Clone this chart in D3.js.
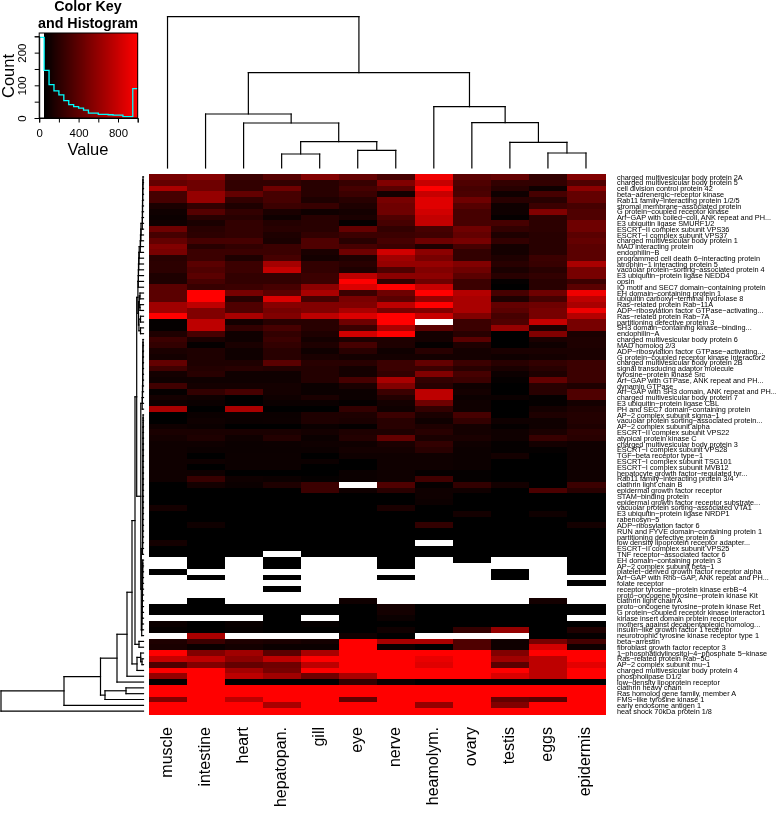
<!DOCTYPE html>
<html><head><meta charset="utf-8">
<script src="https://cdn.jsdelivr.net/npm/d3@7"></script>
<style>html,body{margin:0;padding:0;background:#fff}svg{display:block;will-change:transform}text{font-family:"Liberation Sans",Arial,sans-serif;fill:#000}</style>
</head><body><div id="chart"></div>
<script>
const columns=["muscle","intestine","heart","hepatopan.","gill","eye","nerve","heamolym.","ovary","testis","eggs","epidermis"];
const rowLabels=["charged multivesicular body protein 2A","charged multivesicular body protein 5","cell division control protein 42","beta−adrenergic−receptor kinase","Rab11 family−interacting protein 1/2/5","stromal membrane−associated protein","G protein−coupled receptor kinase","Arf−GAP with coiled−coil, ANK repeat and PH...","E3 ubiquitin ligase SMURF1/2","ESCRT−II complex subunit VPS36","ESCRT−I complex subunit VPS37","charged multivesicular body protein 1","MAD interacting protein","endophilin−B","programmed cell death 6−interacting protein","atrophin−1 interacting protein 5","vacuolar protein−sorting−associated protein 4","E3 ubiquitin−protein ligase NEDD4","opsin","IQ motif and SEC7 domain−containing protein","EH domain−containing protein 1","ubiquitin carboxyl−terminal hydrolase 8","Ras−related protein Rab−11A","ADP−ribosylation factor GTPase−activating...","Ras−related protein Rab−7A","partitioning defective protein 3","SH3 domain−containing kinase−binding...","endophilin−A","charged multivesicular body protein 6","MAD homolog 2/3","ADP−ribosylation factor GTPase−activating...","G protein−coupled receptor kinase interactor2","charged multivesicular body protein 2B","signal transducing adaptor molecule","tyrosine−protein kinase Src","Arf−GAP with GTPase, ANK repeat and PH...","dynamin GTPase","Arf−GAP with SH3 domain, ANK repeat and PH...","charged multivesicular body protein 7","E3 ubiquitin−protein ligase CBL","PH and SEC7 domain−containing protein","AP−2 complex subunit sigma−1","vacuolar protein sorting−associated protein...","AP−2 complex subunit alpha","ESCRT−II complex subunit VPS22","atypical protein kinase C","charged multivesicular body protein 3","ESCRT−I complex subunit VPS28","TGF−beta receptor type−1","ESCRT−I complex subunit TSG101","ESCRT−I complex subunit MVB12","hepatocyte growth factor−regulated tyr...","Rab11 family−interacting protein 3/4","clathrin light chain B","epidermal growth factor receptor","STAM−binding protein","epidermal growth factor receptor substrate...","vacuolar protein sorting−associated VTA1","E3 ubiquitin−protein ligase NRDP1","rabenosyn−5","ADP−ribosylation factor 6","RUN and FYVE domain−containing protein 1","partitioning defective protein 6","low density lipoprotein receptor adapter...","ESCRT−II complex subunit VPS25","TNF receptor−associated factor 6","EH domain−containing protein 3","AP−2 complex subunit beta−1","platelet−derived growth factor receptor alpha","Arf−GAP with Rho−GAP, ANK repeat and PH...","folate receptor","receptor tyrosine−protein kinase erbB−4","proto−oncogene tyrosine−protein kinase Kit","clathrin light chain A","proto−oncogene tyrosine−protein kinase Ret","G protein−coupled receptor kinase interactor1","kinase insert domain protein receptor","mothers against decapentaplegic homolog...","insulin−like growth factor 1 receptor","neurotrophic tyrosine kinase receptor type 1","beta−arrestin","fibroblast growth factor receptor 3","1−phosphatidylinositol−4−phosphate 5−kinase","Ras−related protein Rab−5C","AP−2 complex subunit mu−1","charged multivesicular body protein 4","phospholipase D1/2","low−density lipoprotein receptor","clathrin heavy chain","Ras homolog gene family, member A","FMS−like tyrosine kinase 1","early endosome antigen 1","heat shock 70kDa protein 1/8"];

const muscle=[495,420,680,310,310,145,105,90,105,460,310,420,530,495,200,215,215,160,160,385,385,385,645,645,1000,70,70,160,270,235,145,125,420,290,125,105,290,70,125,105,680,50,50,105,145,125,105,105,105,105,105,105,105,50,50,50,50,125,50,50,50,50,50,125,50,50,0,0,50,0,0,0,0,0,50,50,0,90,70,0,160,145,1000,790,345,1000,605,70,1000,1000,530,1000,1000];
const intestine=[550,460,460,605,605,235,365,200,145,200,215,310,200,270,270,385,345,385,310,255,1000,1000,755,530,530,755,755,310,145,70,160,160,160,180,200,105,125,235,105,90,50,90,105,90,145,160,105,90,50,105,50,105,255,125,50,50,50,50,50,50,105,50,50,50,50,50,50,50,0,50,0,0,0,50,50,50,0,50,50,680,270,90,530,755,530,1000,1000,1000,1000,1000,1000,1000,1000];
const heart=[270,235,235,420,235,160,235,200,235,235,235,310,235,270,160,270,270,235,235,270,495,200,345,345,680,125,235,105,105,145,105,105,160,200,105,105,125,310,50,50,680,95,90,50,145,105,90,90,95,95,95,50,105,90,50,50,50,50,50,50,50,50,50,50,50,50,0,0,0,0,0,0,0,0,50,50,0,80,70,0,160,125,645,570,420,660,755,50,1000,1000,755,1000,1000];
const hepatopan=[365,235,460,310,310,270,145,105,180,200,160,145,270,270,310,660,775,235,235,310,385,865,550,495,530,200,310,235,270,235,200,200,385,180,105,105,125,125,105,90,50,90,95,50,145,180,95,90,95,95,95,50,95,160,50,50,50,50,50,50,50,50,50,50,50,0,50,50,0,50,0,50,0,0,50,50,50,50,50,0,145,90,385,755,460,495,645,50,1000,1000,1000,680,1000];
const gill=[530,200,200,200,160,255,105,200,200,200,235,345,345,145,125,235,235,270,270,570,680,310,530,530,755,200,200,160,125,160,105,145,200,180,180,180,90,90,145,90,50,160,160,90,125,90,105,90,50,95,50,50,70,270,270,50,50,50,50,50,50,50,50,50,50,50,0,0,0,0,0,0,0,0,50,50,0,70,50,0,125,90,680,1000,755,1000,460,50,1000,1000,1000,1000,1000];
const eye=[420,255,310,270,200,160,125,145,70,420,270,200,310,460,160,200,160,755,1000,865,270,500,530,680,865,460,270,830,160,310,200,125,200,125,125,310,145,95,95,70,235,160,145,70,160,180,105,125,105,50,50,90,90,0,105,50,50,50,50,50,50,50,50,50,50,50,0,0,0,0,0,0,0,105,50,50,50,50,50,105,1000,1000,1000,1000,1000,1000,680,235,1000,1000,420,1000,1000];
const nerve=[310,530,385,125,495,460,460,345,310,235,270,310,270,830,645,605,345,570,235,1000,460,385,755,495,1000,1000,680,1000,160,160,105,125,270,270,235,680,530,270,180,125,105,270,200,200,160,420,145,125,105,105,105,105,105,345,200,50,50,145,50,50,50,50,50,50,50,50,50,50,0,50,0,0,0,0,125,125,90,50,105,50,680,90,1000,1000,1000,1000,1000,90,1000,1000,1000,1000,1000];
const heamolym=[940,790,1000,790,885,885,830,775,775,310,290,460,160,570,495,605,530,570,460,790,1000,605,1000,530,790,0,385,125,125,70,200,125,420,270,530,235,200,755,755,460,235,145,105,160,200,145,235,200,105,105,105,70,290,70,105,105,95,50,50,50,235,50,50,0,50,50,0,0,0,0,0,0,0,0,50,50,50,50,50,0,680,50,1000,920,885,1000,1000,50,1000,1000,1000,605,1000];
const ovary=[385,345,310,330,460,365,310,310,310,460,420,495,310,235,235,530,460,385,270,270,720,680,680,680,530,270,270,200,385,160,125,125,270,200,310,270,105,125,95,105,105,310,235,125,125,145,105,95,95,95,95,70,70,235,105,50,50,50,125,50,50,50,50,50,50,50,50,0,0,0,0,0,0,0,50,50,50,50,235,0,345,345,1000,1000,1000,1000,1000,50,1000,1000,1000,1000,1000];
const testis=[420,235,200,105,200,105,105,70,310,235,160,235,125,125,160,200,145,200,70,50,310,160,420,385,310,345,605,50,50,50,145,105,200,145,95,70,50,50,90,50,50,50,105,70,105,105,70,70,125,50,50,50,50,125,50,50,50,50,50,50,50,50,50,50,50,50,0,0,50,50,0,0,0,0,50,50,50,50,605,0,105,105,530,645,385,1000,865,50,1000,1000,420,530,1000];
const eggs=[235,235,105,310,200,270,530,215,215,215,200,200,200,200,270,255,200,235,200,200,460,310,460,495,495,790,160,530,145,105,145,125,235,200,160,420,200,200,70,70,125,160,105,105,145,255,125,70,50,50,50,50,50,50,330,50,50,50,105,50,50,50,50,50,50,50,0,0,0,0,0,0,0,125,50,50,50,50,50,50,495,830,1000,755,755,755,755,50,1000,1000,385,1000,1000];
const epidermis=[530,345,570,420,420,310,345,345,460,460,385,420,385,385,385,680,495,495,270,385,940,755,680,940,720,495,495,145,160,160,145,145,270,270,270,270,160,345,345,125,160,180,180,160,215,200,105,105,105,105,105,105,105,270,200,50,50,50,50,50,125,50,50,50,50,50,50,50,50,0,50,0,0,0,50,50,0,50,160,70,310,105,1000,1000,900,1000,1000,50,1000,1000,1000,1000,1000];
const matrix=[muscle,intestine,heart,hepatopan,gill,eye,nerve,heamolym,ovary,testis,eggs,epidermis];

const histCounts=[247,146,102,83,71,53,41,35,30,24,15,15,11,11,10,9,9,4,4,90];
const histBinWidth=50;
const keyXTicks=[0,200,400,600,800,1000];
const keyXLabels=[0,400,800];
const keyYTicks=[0,50,100,150,200,250];
const keyYLabels=[0,100,200];

// column dendrogram: [height, childA, childB]; leaf = column index
const colTree=[151.3,0,[95.3,[54,1,[45,2,[26.3,[14,3,4],[17.7,5,6]]]],[61.3,7,[45.3,8,[25.7,9,[15,10,11]]]]]];
const colTreeMax=151.3;

// row dendrogram merge heights
const topChainH=[0.5,0.6,0.7,0.8,0.9,1,1,1.1,1.2,2.5,2.6,3,3.2,4.3,4.6,4.8,5,5.1,5.2];
const midChainH=[0.5,0.5,0.6,0.6,0.7,0.7,0.8,0.8,0.9,1,1.1,1.3];
const lowChainH=[0.4,0.4,0.4,0.5,0.5,0.5,0.5,0.5,0.6,0.6,0.6,0.6,0.6,0.7,0.7,0.7,0.7,0.7,0.8,0.8,0.8,0.9,0.9,1];
const naChainH=[0.8,0.8,0.9,0.9,1,1,1.1,1.2,1.3,1.4,1.5,1.7,1.8];
const rowTreeMax=142.5;

function chain(rows,hs){let n=rows[0];hs.forEach((h,i)=>{n=[h,n,rows[i+1]]});return n}
const rTop=[5.6,chain(d3.range(0,20),topChainH),[5,[4.2,[3.5,20,21],[3.5,22,23]],[4.6,[3,24,25],[3,26,27]]]];
const rMid=[2.7,chain(d3.range(28,41),midChainH),[2.2,chain(d3.range(41,66),lowChainH),chain(d3.range(66,80),naChainH)]];
const rowTree=[142.5,[79.5,[43,[26.5,[16.5,[11.5,[8.5,[6.8,rTop,rMid],[4.5,80,81]],[6.5,[2.8,82,[1.5,83,84]],85]],86],87],[38.5,[17.5,88,89],90]],91],92];

const W=776,H=813;
const hm={x0:148.5,x1:605,y0:174,y1:714};
const svg=d3.select("#chart").append("svg").attr("width",W).attr("height",H).attr("viewBox",`0 0 ${W} ${H}`);

const x=d3.scaleBand().domain(d3.range(columns.length)).range([hm.x0,hm.x1]);
const y=d3.scaleBand().domain(d3.range(rowLabels.length)).range([hm.y0,hm.y1]);
const color=v=>v<histBinWidth?"#fff":d3.interpolateRgb("#000","#f00")((v-histBinWidth)/(1000-histBinWidth));

// cells
svg.append("g").attr("shape-rendering","crispEdges").selectAll("g").data(matrix).join("g")
 .each(function(colVals,c){d3.select(this).selectAll("rect").data(colVals).join("rect")
  .attr("x",x(c)).attr("width",x.bandwidth()+.5).attr("y",(d,r)=>y(r)).attr("height",y.bandwidth()+.5).attr("fill",d=>color(d))});

// labels
svg.append("g").selectAll("text").data(rowLabels).join("text")
 .attr("x",617).attr("y",(d,i)=>y(i)+y.bandwidth()/2+2.6).attr("font-size",7.3).text(d=>d);
svg.append("g").selectAll("text").data(columns).join("text")
 .attr("transform",(d,i)=>`translate(${x(i)+x.bandwidth()/2+4},727) rotate(-90)`)
 .attr("text-anchor","end").attr("font-size",16).text(d=>d);

// dendrograms
function toHier(n){return d3.hierarchy(n,d=>Array.isArray(d)?d.slice(1):null)}
function drawTree(root,pos,hScale,horizontalLeaves){
 root.eachAfter(n=>{n.h=Array.isArray(n.data)?n.data[0]:0;
  n.p=n.children?d3.mean(n.children,c=>c.p):pos(n.data)});
 const segs=[];
 root.each(n=>{if(!n.children)return;
  const [a,b]=n.children;
  segs.push([n.h,a.p,n.h,b.p]);
  n.children.forEach(c=>segs.push([n.h,c.p,c.h,c.p]));});
 const g=svg.append("g").attr("stroke","#000").attr("stroke-width",1.2).attr("stroke-linecap","square");
 g.selectAll("line").data(segs).join("line").each(function(s){
  const l=d3.select(this);
  if(horizontalLeaves){l.attr("x1",hScale(s[0])).attr("y1",s[1]).attr("x2",hScale(s[2])).attr("y2",s[3])}
  else{l.attr("x1",s[1]).attr("y1",hScale(s[0])).attr("x2",s[3]).attr("y2",hScale(s[2]))}
 });
}
drawTree(toHier(colTree),c=>x(c)+x.bandwidth()/2,d3.scaleLinear().domain([0,colTreeMax]).range([168,16.7]),false);
drawTree(toHier(rowTree),r=>y(r)+y.bandwidth()/2,d3.scaleLinear().domain([0,rowTreeMax]).range([143.5,1]),true);

// colour key
const kx=d3.scaleLinear().domain([0,1000]).range([39.2,137.7]);
const ky=d3.scaleLinear().domain([0,250]).range([118,36.3]);
const kTop=33;
svg.append("g").attr("shape-rendering","crispEdges").selectAll("rect").data(d3.range(histBinWidth,1000,5)).join("rect")
 .attr("x",d=>kx(d)).attr("width",kx(5)-kx(0)+.6).attr("y",kTop).attr("height",ky(0)-kTop).attr("fill",d=>color(d+2.5));
const step=[];histCounts.forEach((c,i)=>{step.push([i*histBinWidth,c],[(i+1)*histBinWidth,c])});
svg.append("path").attr("d",d3.line().x(d=>kx(d[0])).y(d=>ky(d[1]))(step)).attr("fill","none").attr("stroke","#0ff").attr("stroke-width",1.3);
svg.append("rect").attr("x",kx(0)).attr("y",kTop).attr("width",kx(1000)-kx(0)).attr("height",ky(0)-kTop).attr("fill","none").attr("stroke","#000").attr("stroke-width",1);
const ax=svg.append("g").attr("transform",`translate(0,${ky(0)})`).call(d3.axisBottom(kx).tickValues(keyXTicks).tickSize(4.5).tickFormat(d=>keyXLabels.includes(d)?d:""));
const ay=svg.append("g").attr("transform",`translate(${kx(0)},0)`).call(d3.axisLeft(ky).tickValues(keyYTicks).tickSize(4.5).tickFormat(d=>keyYLabels.includes(d)?d:""));
[ax,ay].forEach(a=>{a.select(".domain").attr("stroke","#000");a.selectAll("line").attr("stroke","#000");a.selectAll("text").attr("font-size",11.4).attr("font-family",'"Liberation Sans"').attr("fill","#000")});
ax.selectAll("text").attr("y",10.5).attr("dy","0.71em");
ay.selectAll("text").attr("x",0).attr("y",0).attr("dy",0).attr("text-anchor","middle").attr("transform","translate(-13,0) rotate(-90)");

const title=svg.append("g").attr("font-weight","bold").attr("font-size",14.3).attr("text-anchor","middle");
title.append("text").attr("x",88).attr("y",11).text("Color Key");
title.append("text").attr("x",88).attr("y",27.7).text("and Histogram");
svg.append("text").attr("x",88).attr("y",155).attr("text-anchor","middle").attr("font-size",16.5).text("Value");
svg.append("text").attr("transform","translate(13.5,76) rotate(-90)").attr("text-anchor","middle").attr("font-size",16.5).text("Count");
</script></body></html>
